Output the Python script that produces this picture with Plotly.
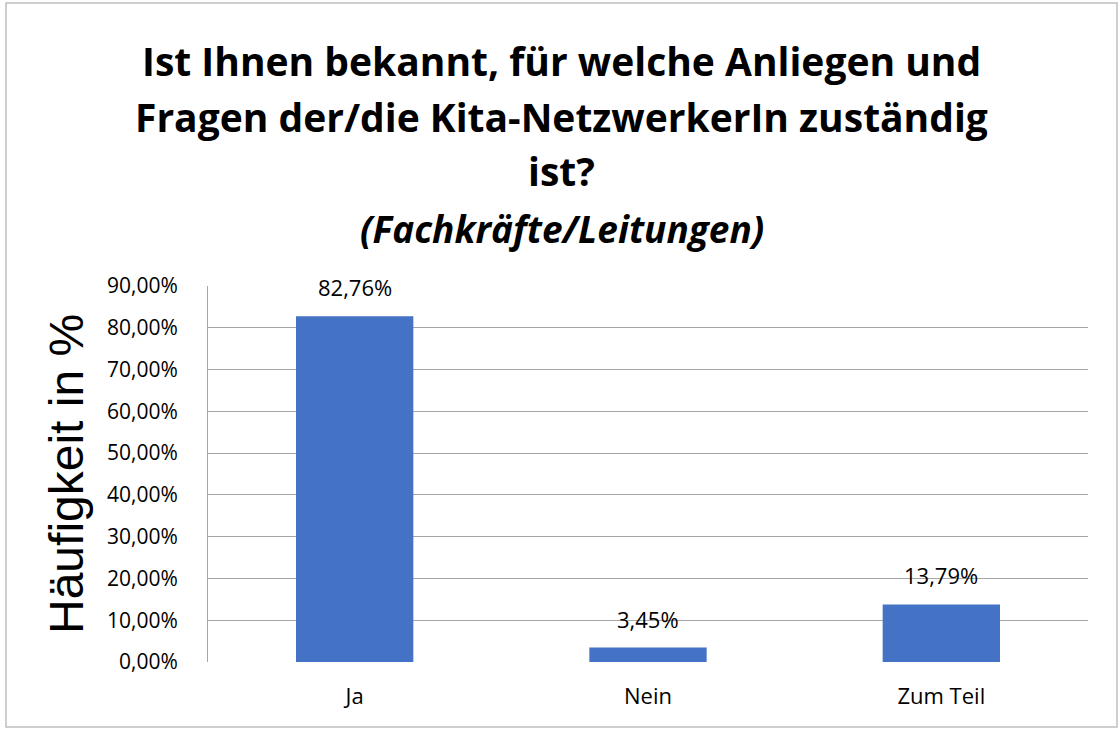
import plotly.graph_objects as go

categories = ["Ja", "Nein", "Zum Teil"]
values = [82.76, 3.45, 13.79]
value_labels = ["82,76%", "3,45%", "13,79%"]
tick_vals = [0, 10, 20, 30, 40, 50, 60, 70, 80, 90]
tick_text = ["0,00%", "10,00%", "20,00%", "30,00%", "40,00%", "50,00%",
             "60,00%", "70,00%", "80,00%", "90,00%"]
title_lines = ["Ist Ihnen bekannt, für welche Anliegen und",
               "Fragen der/die Kita-NetzwerkerIn zuständig",
               "ist?"]
subtitle = "(Fachkräfte/Leitungen)"
y_title = "Häufigkeit in %"

W, H = 1118, 729
L, R, T, B = 208, 30, 286, 67
PW = W - L - R
PH = H - T - B

def px_x(px):
    return (px - L) / PW

def px_y(py):
    return (H - B - py) / PH

LABEL_FONT = "'Open Sans', Lato, sans-serif"

fig = go.Figure()
fig.add_trace(go.Bar(
    x=categories, y=values,
    marker=dict(color="#4472C4", line=dict(width=0)),
    hoverinfo="skip",
))

annotations = []
for c, v, t in zip(categories, values, value_labels):
    annotations.append(dict(x=c, y=v, xref="x", yref="y", text=t, showarrow=False,
                            yanchor="bottom", yshift=12,
                            font=dict(family=LABEL_FONT, size=22, color="#000000")))

title_y = [60, 116, 171]
for line, py in zip(title_lines, title_y):
    annotations.append(dict(x=px_x(561), y=px_y(py), xref="paper", yref="paper",
                            text="<b>" + line + "</b>", showarrow=False,
                            xanchor="center", yanchor="middle",
                            font=dict(family=LABEL_FONT, size=39, color="#000000")))
annotations.append(dict(x=px_x(562), y=px_y(228), xref="paper", yref="paper",
                        text="<b><i>" + subtitle + "</i></b>", showarrow=False,
                        xanchor="center", yanchor="middle",
                        font=dict(family=LABEL_FONT, size=37, color="#000000")))
annotations.append(dict(x=px_x(66), y=px_y(474), xref="paper", yref="paper",
                        text=y_title, showarrow=False, textangle=-90,
                        xanchor="center", yanchor="middle",
                        font=dict(family="'Liberation Sans', Arial, sans-serif", size=48, color="#000000")))

fig.update_layout(
    width=W, height=H,
    margin=dict(l=L, r=R, t=T, b=B),
    paper_bgcolor="#FFFFFF", plot_bgcolor="#FFFFFF",
    showlegend=False,
    bargap=0.6,
    annotations=annotations,
    shapes=[dict(type="rect", xref="paper", yref="paper",
                 x0=px_x(6), x1=px_x(1117), y0=px_y(727), y1=px_y(3),
                 line=dict(color="#BFBFBF", width=1.5), layer="below")],
)
fig.update_xaxes(
    showgrid=False, showline=False, zeroline=False, ticks="",
    tickfont=dict(family=LABEL_FONT, size=22, color="#000000"),
    ticklabelstandoff=19,
)
fig.update_yaxes(
    range=[0, 90], tickvals=tick_vals, ticktext=tick_text,
    showgrid=True, gridcolor="#A6A6A6", gridwidth=1,
    showline=True, linecolor="#A6A6A6", linewidth=1,
    zeroline=False, ticks="",
    tickfont=dict(family=LABEL_FONT, size=21, color="#000000"),
    ticklabelstandoff=25,
)

fig.write_html("out.html",
               config={"displayModeBar": False},
               post_script="document.body.style.margin='0';document.body.style.overflow='hidden';")
